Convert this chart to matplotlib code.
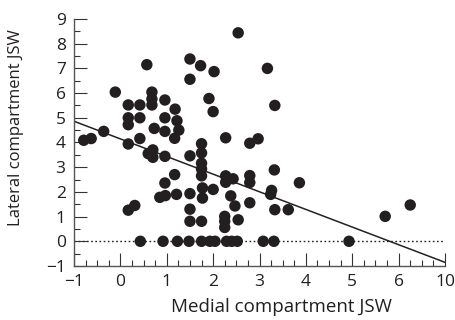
"""
Scatter of lateral vs medial compartment JSW with regression line
"""
from matplotlib import pyplot as plt
from matplotlib.ticker import MultipleLocator
import numpy as np

plt.rcParams['font.family'] = ['Open Sans', 'DejaVu Sans']

# points sitting on the zero line
zero_x = [0.43, 0.92, 1.23, 1.48, 1.75, 1.93, 2.04, 2.29, 2.40, 2.52, 3.08, 3.31, 4.93]

medial = [
    -0.79, -0.63, -0.36, -0.11,
    0.17, 0.17, 0.17, 0.17, 0.17, 0.31,
    0.42, 0.42, 0.42, 0.57,
    0.68, 0.68, 0.68, 0.73, 0.60, 0.70, 0.70,
    0.96, 0.96, 0.96, 0.96, 0.96, 0.85, 0.97,
    1.18, 1.22, 1.26, 1.17, 1.17, 1.21,
    1.50, 1.50, 1.50, 1.50, 1.50, 1.50,
    1.73, 1.75, 1.75, 1.75, 1.75, 1.75, 1.77, 1.77, 1.75,
    1.91, 2.00, 2.02, 2.00,
    2.27, 2.27, 2.27, 2.43, 2.38, 2.47, 2.25, 2.25, 2.25, 2.54,
    2.54,
    2.79, 2.97, 2.79, 2.79, 2.79,
    3.17, 3.33, 3.32, 3.26, 3.24, 3.33, 3.62, 3.86,
    5.71, 6.25,
]
lateral = [
    4.09, 4.16, 4.45, 6.04,
    5.52, 5.00, 4.72, 3.94, 1.26, 1.45,
    5.52, 5.00, 4.16, 7.15,
    6.04, 5.76, 5.52, 4.57, 3.55, 3.70, 3.40,
    5.72, 5.00, 4.45, 3.44, 2.36, 1.78, 1.85,
    5.35, 4.88, 4.50, 4.17, 2.70, 1.90,
    7.38, 6.56, 3.46, 1.93, 1.30, 0.81,
    7.11, 3.95, 3.58, 3.16, 2.93, 2.65, 2.16, 1.75, 0.81,
    5.78, 5.25, 6.87, 2.10,
    4.19, 2.65, 2.39, 2.53, 1.84, 1.43, 1.01, 0.81, 0.56, 0.87,
    8.44,
    3.97, 4.15, 2.66, 2.38, 1.56,
    7.00, 5.50, 2.89, 2.06, 1.90, 1.28, 1.28, 2.37,
    1.01, 1.47,
]

# fitted line: lateral = fit_a + fit_b * medial
fit_a = 4.146
fit_b = -0.714

x_ticks = [-1, 0, 1, 2, 3, 4, 5, 6, 7]
x_tick_labels = ['\u22121', '0', '1', '2', '3', '4', '5', '6', '10']
y_ticks = list(range(-1, 10))
y_tick_labels = ['\u22121'] + [str(v) for v in range(0, 10)]

fig = plt.figure(figsize=(4.56, 3.2), dpi=100)
ax = fig.add_axes([0.1623, 0.16875, 0.8136, 0.7719])

ax.set_xlim(-1, 7)
ax.set_ylim(-1, 9)

# dotted zero line and regression line
ax.axhline(0, color='#222222', lw=1.0, ls=(0, (1.2, 1.8)), zorder=1)
line_x = np.array([-1, 7])
ax.plot(line_x, fit_a + fit_b * line_x, color='#222222', lw=1.1, zorder=2)

pts_x = medial + zero_x
pts_y = lateral + [0] * len(zero_x)
ax.scatter(pts_x, pts_y, s=68, color='#231f20', edgecolors='none', zorder=3, clip_on=False)

for side in ['top', 'right']:
    ax.spines[side].set_visible(False)
for side in ['left', 'bottom']:
    ax.spines[side].set_color('#555555')
    ax.spines[side].set_linewidth(1.0)

ax.set_xticks(x_ticks)
ax.set_xticklabels(x_tick_labels)
ax.set_yticks(y_ticks)
ax.set_yticklabels(y_tick_labels)
ax.xaxis.set_minor_locator(MultipleLocator(0.25))
ax.yaxis.set_minor_locator(MultipleLocator(0.5))
ax.tick_params(which='major', direction='in', length=9.5, width=0.8,
               color='#333333', labelsize=12.5, pad=6, labelcolor='#231f20')
ax.tick_params(which='minor', direction='in', length=4.5, width=0.8, color='#333333')

ax.set_xlabel('Medial compartment JSW', fontsize=13.5, color='#231f20')
ax.set_ylabel('Lateral compartment JSW', fontsize=12, color='#231f20')
ax.xaxis.set_label_coords(0.558, -0.13)
ax.yaxis.set_label_coords(-0.135, 0.56)

fig.savefig('out.png', dpi=100)
